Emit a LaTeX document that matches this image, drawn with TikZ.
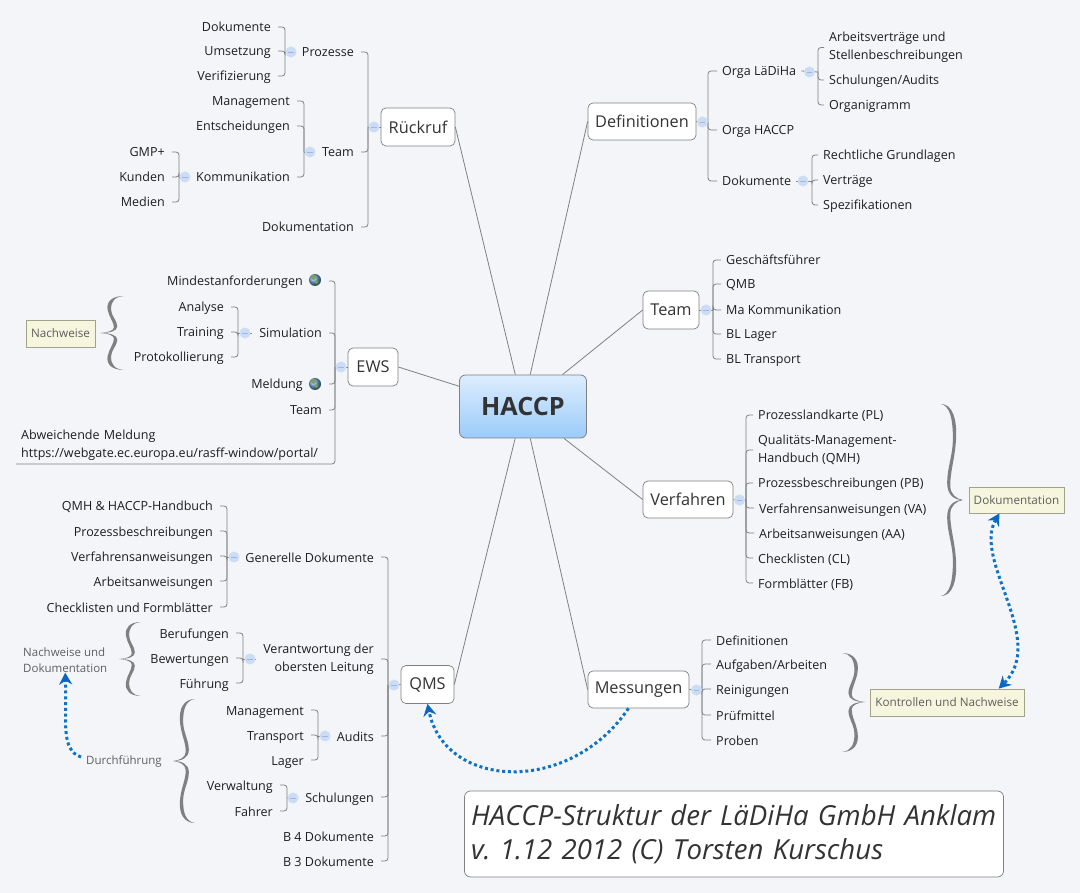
\documentclass[tikz,border=0pt]{standalone}
\usepackage{fontspec}
\setmainfont{Open Sans}
\usetikzlibrary{arrows.meta,calc,shadings}
\definecolor{bgc}{HTML}{F3F5F9}
\definecolor{linec}{HTML}{808080}
\definecolor{txtc}{HTML}{1E1E1E}
\definecolor{topc}{HTML}{333333}
\definecolor{sumc}{HTML}{5F5F5F}
\definecolor{bluec}{HTML}{0F72C4}
\definecolor{arrc}{HTML}{0A66C2}
\definecolor{colc}{HTML}{CBDCF4}
\definecolor{colm}{HTML}{9DB9E0}
\definecolor{notec}{HTML}{F6F6DE}
\definecolor{noted}{HTML}{A3A38C}
\definecolor{hacT}{HTML}{DDEDFE}
\definecolor{hacB}{HTML}{9BCBFA}
\definecolor{braceC}{HTML}{808080}
\definecolor{globeB}{HTML}{6FA6CF}
\definecolor{globeG}{HTML}{7F9F5A}
\newcommand\itemfont{\fontsize{12.55}{18}\selectfont}
\newcommand\topicfont{\fontsize{16.3}{20}\selectfont}
\frenchspacing
\tikzset{
  x=1pt,y=-1pt,
  item/.style={font=\itemfont,text=txtc,inner ysep=0pt,inner xsep=7pt,align=left,text height=12.5pt,text depth=2.5pt},
  litem/.style={item,anchor=east,align=right},
  ritem/.style={item,anchor=west,inner xsep=5pt},
  topic/.style={draw=linec,fill=white,rounded corners=5pt,line width=.7pt,font=\topicfont,text=topc,inner sep=0pt},
  branch/.style={draw=linec,line width=.8pt,rounded corners=3pt},
  spoke/.style={draw=linec,line width=.8pt},
  collapse/.style={circle,fill=colc,minimum size=11pt,inner sep=0pt,
    path picture={\draw[colm,line width=.7pt] ($(path picture bounding box.center)+(-2.8,0)$) -- ($(path picture bounding box.center)+(2.8,0)$);}},
  note/.style={draw=noted,fill=notec,line width=.7pt,font=\fontsize{11.7}{14}\selectfont,text=sumc,inner sep=0pt},
  summ/.style={font=\fontsize{11.5}{16}\selectfont,text=sumc,inner sep=0pt,align=left},
  rel/.style={draw=bluec,line width=3pt,dash pattern=on 3pt off 2.8pt},
  globe/.style={circle,minimum size=12pt,inner sep=0pt,shading=ball,ball color=globeB,
    path picture={\fill[globeG] ($(path picture bounding box.center)+(-1.5,-2.5)$) circle (2.4pt) ($(path picture bounding box.center)+(1.5,2)$) circle (1.8pt);}},
}
\newcommand\halfbrace{%
  \fill[braceC] (1,-1) .. controls (.5,-1) and (.25,-.85) .. (.32,-.62) .. controls (.38,-.42) and (.58,-.3) .. (.58,-.15) .. controls (.58,-.06) and (.3,-.01) .. (0,0)
   .. controls (.4,0) and (.72,-.05) .. (.72,-.18) .. controls (.72,-.34) and (.46,-.46) .. (.46,-.64) .. controls (.46,-.85) and (.6,-.98) .. (1,-1) -- cycle;}
\newcommand\sbrace[5]{%
 \begin{scope}[shift={(#1,#2)},x=#3pt,y=-#4pt]\halfbrace\end{scope}
 \begin{scope}[shift={(#1,#2)},x=#3pt,y=#5pt]\halfbrace\end{scope}}
\begin{document}
\begin{tikzpicture}
\fill[bgc] (0,0) rectangle (1080,893);
\useasboundingbox (0,0) rectangle (1080,893);

% --- topics ---
\node[draw=linec,rounded corners=6pt,line width=.8pt,top color=hacT,bottom color=hacB,minimum width=127pt,minimum height=63pt,inner sep=0pt,font=\fontsize{25.2}{28}\selectfont\bfseries,text=topc] (haccp) at (523,406.5) {HACCP};
\node[topic,minimum width=74pt,minimum height=38pt] (ruck) at (418,127) {Rückruf};
\node[topic,minimum width=50pt,minimum height=38pt] (ews) at (373,367) {EWS};
\node[topic,minimum width=53pt,minimum height=38pt] (qms) at (427.5,684.5) {QMS};
\node[topic,minimum width=108pt,minimum height=37pt] (defi) at (642,121.5) {Definitionen};
\node[topic,minimum width=56pt,minimum height=38pt] (team) at (671,310) {Team};
\node[topic,minimum width=90pt,minimum height=37pt] (verf) at (688,499.5) {Verfahren};
\node[topic,minimum width=101pt,minimum height=37pt] (mess) at (638.5,689.5) {Messungen};
\draw[spoke] (haccp) -- (ruck.east);
\draw[spoke] (haccp) -- (ews.east);
\draw[spoke] (haccp) -- (qms.east);
\draw[spoke] (haccp) -- (defi.west);
\draw[spoke] (haccp) -- (team.west);
\draw[spoke] (haccp) -- (verf.west);
\draw[spoke] (haccp) -- (mess.west);

% --- Rueckruf ---
\coordinate (sR) at (368,127);
\node[litem] (pro) at (361,52) {Prozesse};
\node[litem] (rteam) at (361,152) {Team};
\node[litem] (rdok) at (361,227) {Dokumentation};
\foreach \k in {pro,rteam,rdok} \draw[branch] (\k.east) -| (sR);
\draw[branch] (sR) -- (ruck.west);
\node[collapse] (cR) at (374,127) {};
\coordinate (sP) at (285,52);
\node[litem] (p1) at (278,27) {Dokumente};
\node[litem] (p2) at (278,51) {Umsetzung};
\node[litem] (p3) at (278,76) {Verifizierung};
\foreach \k in {p1,p2,p3} \draw[branch] (\k.east) -| (sP);
\draw[branch] (sP) -- (pro.west);
\node[collapse] (cP) at (291,52) {};
\coordinate (sT) at (304,152);
\node[litem] (t1) at (297,101) {Management};
\node[litem] (t2) at (297,126) {Entscheidungen};
\node[litem] (t3) at (297,177) {Kommunikation};
\foreach \k in {t1,t2,t3} \draw[branch] (\k.east) -| (sT);
\draw[branch] (sT) -- (rteam.west);
\node[collapse] (cT) at (310,152) {};
\coordinate (sK) at (179,177);
\node[litem] (k1) at (172,152) {GMP+};
\node[litem] (k2) at (172,177) {Kunden};
\node[litem] (k3) at (172,202) {Medien};
\foreach \k in {k1,k2,k3} \draw[branch] (\k.east) -| (sK);
\draw[branch] (sK) -- (t3.west);
\node[collapse] (cK) at (185,177) {};

% --- EWS ---
\coordinate (sE) at (335,367);
\node[litem] (e1) at (329,281) {Mindestanforderungen\hspace{19pt}};
\node[litem] (e2) at (329,333) {Simulation};
\node[litem] (e3) at (329,384) {Meldung\hspace{19pt}};
\node[litem] (e4) at (329,410) {Team};
\node[font=\itemfont,text=txtc,anchor=south west,inner xsep=5pt,inner ysep=3.7pt,text width=308pt,align=left] (abw) at (16,464) {Abweichende Meldung\\https://webgate.ec.europa.eu/rasff-window/portal/};
\foreach \k in {e1,e2,e3,e4} \draw[branch] (\k.east) -| (sE);
\draw[branch] (abw.south west) -| (sE);
\draw[branch] (sE) -- (ews.west);
\node[collapse] (cE) at (341,367) {};
\node[globe] (g1) at (315,280) {};
\node[globe] (g2) at (315,384) {};
\coordinate (sS) at (238,333);
\node[litem] (s1) at (231,307) {Analyse};
\node[litem] (s2) at (231,332) {Training};
\node[litem] (s3) at (231,357) {Protokollierung};
\foreach \k in {s1,s2,s3} \draw[branch] (\k.east) -| (sS);
\draw[branch] (sS) -- (e2.west);
\node[collapse] (cS) at (245,333) {};
\node[note,minimum width=69pt,minimum height=27pt] (nach) at (60.5,333.5) {Nachweise};
\sbrace{100}{333}{24}{37}{37}

% --- QMS ---
\coordinate (sQ) at (388,685);
\node[litem] (q1) at (381,557) {Generelle Dokumente};
\node[litem,text height=,text depth=] (q2) at (381,659) {Verantwortung der\\obersten Leitung};
\node[litem] (q3) at (381,736) {Audits};
\node[litem] (q4) at (381,797) {Schulungen};
\node[litem] (q5) at (381,836) {B 4 Dokumente};
\node[litem] (q6) at (381,861) {B 3 Dokumente};
\foreach \k in {q1,q2,q3,q4,q5,q6} \draw[branch] (\k.east) -| (sQ);
\draw[branch] (sQ) -- (qms.west);
\node[collapse] (cQ) at (394,685) {};
\coordinate (sG) at (227,557);
\node[litem] (g1a) at (220,506) {QMH \& HACCP-Handbuch};
\node[litem] (g2a) at (220,531) {Prozessbeschreibungen};
\node[litem] (g3a) at (220,556) {Verfahrensanweisungen};
\node[litem] (g4a) at (220,581) {Arbeitsanweisungen};
\node[litem] (g5a) at (220,607) {Checklisten und Formblätter};
\foreach \k in {g1a,g2a,g3a,g4a,g5a} \draw[branch] (\k.east) -| (sG);
\draw[branch] (sG) -- (q1.west);
\node[collapse] (cG) at (234,557) {};
\coordinate (sV) at (243,659);
\node[litem] (v1) at (236,633) {Berufungen};
\node[litem] (v2) at (236,658) {Bewertungen};
\node[litem] (v3) at (236,683) {Führung};
\foreach \k in {v1,v2,v3} \draw[branch] (\k.east) -| (sV);
\draw[branch] (sV) -- (q2.west);
\node[collapse] (cV) at (250,659) {};
\coordinate (sA) at (318,736);
\node[litem] (a1) at (311,710) {Management};
\node[litem] (a2) at (311,735) {Transport};
\node[litem] (a3) at (311,760) {Lager};
\foreach \k in {a1,a2,a3} \draw[branch] (\k.east) -| (sA);
\draw[branch] (sA) -- (q3.west);
\node[collapse] (cA) at (325,736) {};
\coordinate (sH) at (287,798);
\node[litem] (h1) at (280,785) {Verwaltung};
\node[litem] (h2) at (280,811) {Fahrer};
\foreach \k in {h1,h2} \draw[branch] (\k.east) -| (sH);
\draw[branch] (sH) -- (q4.west);
\node[collapse] (cH) at (293,798) {};
\node[summ,anchor=west] (nud) at (23,660) {Nachweise und\\Dokumentation};
\sbrace{119}{659}{22}{37}{37}
\node[summ,anchor=west] (durch) at (86,761) {Durchführung};
\sbrace{173}{761}{22}{62}{62}

% --- Definitionen ---
\coordinate (sD) at (708,122);
\node[ritem] (d1) at (717,71) {Orga LäDiHa};
\node[ritem] (d2) at (717,130) {Orga HACCP};
\node[ritem] (d3) at (717,181) {Dokumente};
\foreach \k in {d1,d2,d3} \draw[branch] (\k.west) -| (sD);
\draw[branch] (defi.east) -- (sD);
\node[collapse] (cD) at (702.5,122) {};
\coordinate (sO) at (818,72);
\node[ritem,text height=,text depth=] (o1) at (824,47.5) {Arbeitsverträge und\\Stellenbeschreibungen};
\node[ritem] (o2) at (824,80) {Schulungen/Audits};
\node[ritem] (o3) at (824,105) {Organigramm};
\foreach \k in {o1,o2,o3} \draw[branch] (\k.west) -| (sO);
\draw[branch] (d1.east) -- (sO);
\node[collapse] (cO) at (809.5,72) {};
\coordinate (sZ) at (812,181);
\node[ritem] (z1) at (818,155) {Rechtliche Grundlagen};
\node[ritem] (z2) at (818,180) {Verträge};
\node[ritem] (z3) at (818,205) {Spezifikationen};
\foreach \k in {z1,z2,z3} \draw[branch] (\k.west) -| (sZ);
\draw[branch] (d3.east) -- (sZ);
\node[collapse] (cZ) at (803,181) {};

% --- Team ---
\coordinate (sM) at (713,310);
\node[ritem] (m1) at (721,260) {Geschäftsführer};
\node[ritem] (m2) at (721,284) {QMB};
\node[ritem] (m3) at (721,310) {Ma Kommunikation};
\node[ritem] (m4) at (721,334) {BL Lager};
\node[ritem] (m5) at (721,359) {BL Transport};
\foreach \k in {m1,m2,m3,m4,m5} \draw[branch] (\k.west) -| (sM);
\draw[branch] (team.east) -- (sM);
\node[collapse] (cM) at (706,310) {};

% --- Verfahren ---
\coordinate (sF) at (746,500);
\node[ritem] (f1) at (753,415) {Prozesslandkarte (PL)};
\node[ritem,text height=,text depth=] (f2) at (753,450) {Qualitäts-Management-\\Handbuch (QMH)};
\node[ritem] (f3) at (753,483) {Prozessbeschreibungen (PB)};
\node[ritem] (f4) at (754,508) {Verfahrensanweisungen (VA)};
\node[ritem] (f5) at (754,533) {Arbeitsanweisungen (AA)};
\node[ritem] (f6) at (753,558) {Checklisten (CL)};
\node[ritem] (f7) at (753,583) {Formblätter (FB)};
\foreach \k in {f1,f2,f3,f4,f5,f6,f7} \draw[branch] (\k.west) -| (sF);
\draw[branch] (verf.east) -- (sF);
\node[collapse] (cF) at (739.5,500) {};
\sbrace{963}{500}{-22}{96}{96}
\node[note,minimum width=95pt,minimum height=26pt] (doku) at (1016.5,500) {Dokumentation};

% --- Messungen ---
\coordinate (sN) at (702,690);
\node[ritem] (n1) at (711,640) {Definitionen};
\node[ritem] (n2) at (711,664) {Aufgaben/Arbeiten};
\node[ritem] (n3) at (711,689) {Reinigungen};
\node[ritem] (n4) at (711,715) {Prüfmittel};
\node[ritem] (n5) at (711,740) {Proben};
\foreach \k in {n1,n2,n3,n4,n5} \draw[branch] (\k.west) -| (sN);
\draw[branch] (mess.east) -- (sN);
\node[collapse] (cN) at (696.5,690) {};
\sbrace{865}{702}{-23}{49}{50}
\node[note,minimum width=154pt,minimum height=27pt] (kont) at (947,702.5) {Kontrollen und Nachweise};

% --- title ---
\node[draw=linec,fill=white,rounded corners=6pt,line width=.7pt,minimum width=537pt,minimum height=86pt,inner xsep=6.5pt,inner ysep=0pt,text width=526pt,align=left,font=\fontsize{27.6}{34}\selectfont\itshape,text=topc] (title) at (734,834) {\raisebox{-3pt}{HACCP-Struktur der LäDiHa GmbH Anklam}\\\raisebox{-3pt}{v. 1.12 2012 (C) Torsten Kurschus}};

% --- relations ---
\draw[rel,-{Stealth[length=12pt,width=13pt,inset=4pt,color=arrc]}] (mess.-118) .. controls (570,795) and (445,790) .. (qms.south);
\draw[rel,{Stealth[length=12pt,width=13pt,inset=4pt,color=arrc]}-{Stealth[length=12pt,width=13pt,inset=4pt,color=arrc]}] (doku.-142) .. controls (972,560) and (1048,640) .. (kont.15);
\draw[rel,-{Stealth[length=12pt,width=13pt,inset=4pt,color=arrc]}] (durch.west) ++(-5,-4) .. controls (60,750) and (67,720) .. (nud.south);
\end{tikzpicture}
\end{document}
